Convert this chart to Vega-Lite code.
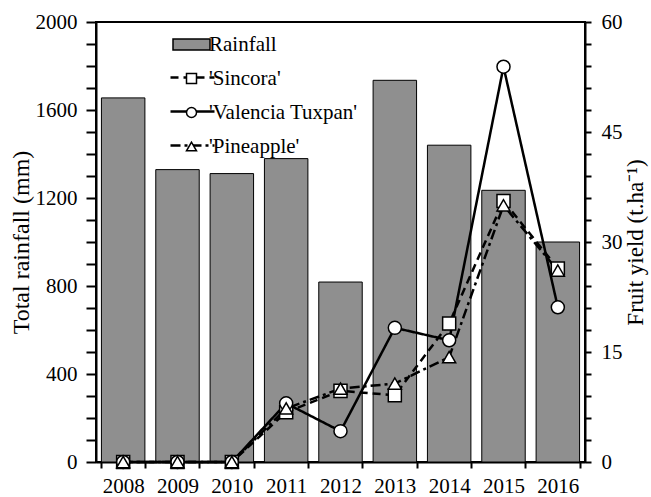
{
  "$schema": "https://vega.github.io/schema/vega-lite/v6.json",
  "autosize": {"type": "none"},
  "padding": {"left": 96, "top": 22, "right": 66, "bottom": 35},
  "width": 489,
  "height": 440,
  "background": "white",
  "config": {
    "font": "Liberation Serif",
    "view": {"stroke": "black", "strokeWidth": 2},
    "legend": {"labelFont": "Liberation Serif", "titleFont": "Liberation Serif"},
    "axis": {
      "labelFont": "Liberation Serif",
      "titleFont": "Liberation Serif",
      "labelFontSize": 21,
      "titleFontSize": 23,
      "titleFontWeight": "normal",
      "labelColor": "black",
      "titleColor": "black",
      "domainColor": "black",
      "domainWidth": 2,
      "ticks": true,
      "tickColor": "black",
      "tickWidth": 2,
      "grid": false
    }
  },
  "datasets": {
    "rain": [
      {"year": "2008", "rainfall": 1655},
      {"year": "2009", "rainfall": 1329},
      {"year": "2010", "rainfall": 1311},
      {"year": "2011", "rainfall": 1379},
      {"year": "2012", "rainfall": 818},
      {"year": "2013", "rainfall": 1735},
      {"year": "2014", "rainfall": 1440},
      {"year": "2015", "rainfall": 1235},
      {"year": "2016", "rainfall": 1000}
    ],
    "yield": [
      {"year": "2008", "series": "'Sincora'", "yield": 0},
      {"year": "2009", "series": "'Sincora'", "yield": 0},
      {"year": "2010", "series": "'Sincora'", "yield": 0},
      {"year": "2011", "series": "'Sincora'", "yield": 6.8},
      {"year": "2012", "series": "'Sincora'", "yield": 9.7},
      {"year": "2013", "series": "'Sincora'", "yield": 9.1},
      {"year": "2014", "series": "'Sincora'", "yield": 18.9},
      {"year": "2015", "series": "'Sincora'", "yield": 35.6},
      {"year": "2016", "series": "'Sincora'", "yield": 26.4},
      {"year": "2008", "series": "'Valencia Tuxpan'", "yield": 0},
      {"year": "2009", "series": "'Valencia Tuxpan'", "yield": 0},
      {"year": "2010", "series": "'Valencia Tuxpan'", "yield": 0},
      {"year": "2011", "series": "'Valencia Tuxpan'", "yield": 8.0},
      {"year": "2012", "series": "'Valencia Tuxpan'", "yield": 4.2},
      {"year": "2013", "series": "'Valencia Tuxpan'", "yield": 18.3},
      {"year": "2014", "series": "'Valencia Tuxpan'", "yield": 16.6},
      {"year": "2015", "series": "'Valencia Tuxpan'", "yield": 53.9},
      {"year": "2016", "series": "'Valencia Tuxpan'", "yield": 21.1},
      {"year": "2008", "series": "'Pineapple'", "yield": 0},
      {"year": "2009", "series": "'Pineapple'", "yield": 0},
      {"year": "2010", "series": "'Pineapple'", "yield": 0},
      {"year": "2011", "series": "'Pineapple'", "yield": 7.3},
      {"year": "2012", "series": "'Pineapple'", "yield": 10.0},
      {"year": "2013", "series": "'Pineapple'", "yield": 10.7},
      {"year": "2014", "series": "'Pineapple'", "yield": 14.3},
      {"year": "2015", "series": "'Pineapple'", "yield": 35.0},
      {"year": "2016", "series": "'Pineapple'", "yield": 26.1}
    ]
  },
  "encoding": {
    "x": {
      "field": "year",
      "type": "nominal",
      "scale": {"paddingInner": 0.2, "paddingOuter": 0.1},
      "axis": {
        "title": null,
        "labelAngle": 0,
        "tickBand": "extent",
        "tickSize": 6,
        "labelPadding": 7
      }
    }
  },
  "layer": [
    {
      "data": {"name": "rain"},
      "mark": {"type": "bar", "fill": "#8f8f8f", "stroke": "black", "strokeWidth": 1},
      "encoding": {
        "y": {
          "field": "rainfall",
          "type": "quantitative",
          "scale": {"domain": [0, 2000], "nice": false},
          "axis": {
            "orient": "left",
            "title": "Total rainfall (mm)",
            "titleFontSize": 24,
            "values": [0,100,200,300,400,500,600,700,800,900,1000,1100,1200,1300,1400,1500,1600,1700,1800,1900,2000],
            "labelExpr": "datum.value % 400 == 0 ? datum.label : ''",
            "format": "d",
            "tickSize": 10,
            "labelPadding": 9,
            "titlePadding": 2
          }
        }
      }
    },
    {
      "data": {"name": "yield"},
      "encoding": {
        "y": {
          "field": "yield",
          "type": "quantitative",
          "scale": {"domain": [0, 60], "nice": false},
          "axis": {
            "orient": "right",
            "title": "Fruit yield (t.ha⁻¹)",
            "titleAngle": 270,
            "values": [0,3,6,9,12,15,18,21,24,27,30,33,36,39,42,45,48,51,54,57,60],
            "labelExpr": "datum.value % 15 == 0 ? datum.label : ''",
            "tickSize": 6,
            "labelPadding": 10,
            "titlePadding": 25
          }
        }
      },
      "layer": [
        {
          "mark": {"type": "line", "color": "black", "strokeWidth": 2.5},
          "encoding": {
            "detail": {"field": "series"},
            "strokeDash": {
              "field": "series",
              "type": "nominal",
              "scale": {
                "domain": ["'Sincora'", "'Valencia Tuxpan'", "'Pineapple'"],
                "range": [[8, 5], [1, 0], [10, 4, 3, 4]]
              },
              "legend": {
                "title": null,
                "orient": "none",
                "legendX": 73,
                "legendY": 32,
                "padding": 0,
                "symbolType": "stroke",
                "symbolSize": 1936,
                "symbolStrokeWidth": 2.5,
                "symbolStrokeColor": "black",
                "rowPadding": -23,
                "labelExpr": "''",
                "labelFontSize": 21
              }
            }
          }
        },
        {
          "mark": {"type": "point", "filled": true, "strokeWidth": 1.5, "opacity": 1, "size": 170},
          "encoding": {
            "shape": {
              "field": "series",
              "type": "nominal",
              "scale": {
                "domain": ["Rainfall", "'Sincora'", "'Valencia Tuxpan'", "'Pineapple'"],
                "range": ["M-3.7,-1.1H3.7V1.1H-3.7Z", "square", "circle", "triangle-up"]
              },
              "legend": {
                "title": null,
                "orient": "none",
                "legendX": 85,
                "legendY": 12,
                "padding": 0,
                "labelFontSize": 21,
                "labelColor": "black",
                "labelOffset": 7,
                "rowPadding": 12,
                "symbolSize": 100,
                "symbolOpacity": 1,
                "symbolStrokeWidth": 1.5
              }
            },
            "fill": {
              "field": "series",
              "type": "nominal",
              "scale": {
                "domain": ["Rainfall", "'Sincora'", "'Valencia Tuxpan'", "'Pineapple'"],
                "range": ["#8f8f8f", "white", "white", "white"]
              },
              "legend": null
            },
            "stroke": {
              "field": "series",
              "type": "nominal",
              "scale": {
                "domain": ["Rainfall", "'Sincora'", "'Valencia Tuxpan'", "'Pineapple'"],
                "range": ["black", "black", "black", "black"]
              },
              "legend": null
            }
          }
        }
      ]
    }
  ],
  "resolve": {"scale": {"y": "independent"}}
}
